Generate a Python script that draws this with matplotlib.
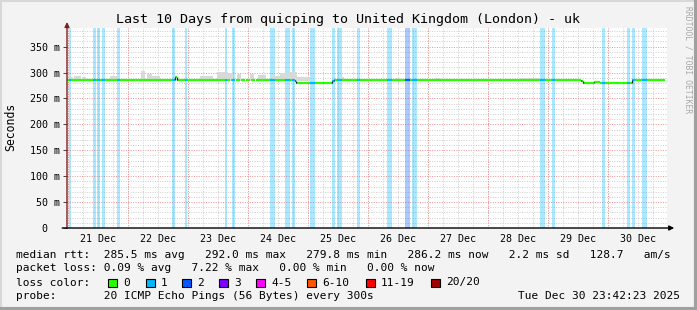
import numpy as np
import matplotlib
matplotlib.use("Agg")
import matplotlib.pyplot as plt
from matplotlib.collections import LineCollection
from matplotlib.patches import Rectangle
from matplotlib.lines import Line2D
import pandas as pd

W, H = 697, 310
MONO = "DejaVu Sans Mono"

# ---------------- data (hours after start of window) ----------------
start = pd.Timestamp("2025-12-20 23:42:23")
span_h = 240.0
title = "Last 10 Days from quicping to United Kingdom (London) - uk"

# packet-loss bands
band_start = [0.8, 10.2, 12.0, 14.0, 20.0, 42.0, 47.2, 63.2, 66.0, 81.2, 87.2, 90.0,
              97.2, 106.0, 108.0, 116.0, 128.0, 135.2, 138.0, 189.2, 194.0, 214.0,
              224.0, 226.0, 230.0]
band_end = [1.6, 11.4, 13.0, 15.2, 21.0, 43.2, 47.8, 64.0, 67.2, 83.2, 89.2, 91.0,
            99.2, 107.0, 110.0, 117.2, 130.0, 137.2, 140.0, 191.2, 195.2, 215.2,
            225.2, 227.2, 232.0]
band_loss = [1, 1, 1, 1, 1, 1, 1, 1, 1, 1, 1, 1,
             1, 1, 1, 1, 1, 2, 1, 1, 1, 1,
             1, 1, 1]

# median rtt (ms), step changes
med_t = [0.0, 42.0, 43.2, 44.0, 91.2, 91.6, 93.2, 98.0, 102.0, 105.2, 106.0, 106.8,
         159.2, 160.0, 205.6, 206.4, 207.6, 210.8, 213.2, 215.6, 220.0, 223.6, 225.2, 226.0]
med_v = [286.5, 286.0, 292.0, 286.5, 283.0, 280.5, 279.8, 280.2, 279.8, 280.5, 283.0, 286.5,
         285.0, 286.5, 283.5, 280.5, 279.8, 281.0, 280.0, 280.5, 279.8, 280.5, 279.8, 286.3]
med_end = 239.2

# smoke (upper spread of pings, ms)
smoke_start = [1.2, 2.8, 6.0, 17.2, 29.6, 32.0, 34.0, 53.2, 60.0, 64.4, 68.0, 73.2,
               76.4, 82.0, 85.2, 89.2, 92.0, 109.2, 131.2, 147.2, 181.2]
smoke_end = [2.4, 5.6, 7.6, 20.0, 31.2, 34.0, 37.2, 58.4, 64.4, 66.4, 69.6, 74.8,
             79.6, 85.2, 89.2, 92.0, 97.2, 110.8, 133.2, 149.2, 189.2]
smoke_top = [292, 294, 292, 294, 303, 297, 294, 294, 302, 300, 298, 298,
             295, 293, 300, 302, 292, 291, 290, 289, 289]

loss_labels = ["0", "1", "2", "3", "4-5", "6-10", "11-19", "20/20"]
loss_colors = ["#26ff00", "#00b8ff", "#0059ff", "#7e00ff", "#ff00ff", "#ff5500", "#ff0000", "#a10000"]

y_ticks = [0, 50, 100, 150, 200, 250, 300, 350]

rtt_line = "median rtt:  285.5 ms avg   292.0 ms max   279.8 ms min   286.2 ms now   2.2 ms sd   128.7   am/s"
loss_line = "packet loss: 0.09 % avg   7.22 % max   0.00 % min   0.00 % now"
probe_line = "probe:       20 ICMP Echo Pings (56 Bytes) every 300s"
stamp_text = "Tue Dec 30 23:42:23 2025"

# ---------------- figure ----------------
fig = plt.figure(figsize=(W / 100, H / 100), dpi=100, facecolor="#f3f3f3")

def fx(px):
    return px / W

def fy(py):
    return 1 - py / H

ax = fig.add_axes([fx(67), fy(228), 600 / W, 200 / H])
ax.set_facecolor("white")
ax.set_xlim(0, span_h)
ax.set_ylim(0, 386)
for s in ax.spines.values():
    s.set_visible(False)

# grid
first_mid = ((start.normalize() + pd.Timedelta(days=1)) - start).total_seconds() / 3600.0
six_h = np.arange(first_mid - 18, span_h, 6.0)
six_h = six_h[(six_h > 0) & (six_h < span_h)]
mids = np.arange(first_mid, span_h, 24.0)
minor_y = [v for v in range(10, 386, 10) if v % 50 != 0]
major_y = [v for v in range(50, 386, 50)]
ax.hlines(minor_y, 0, span_h, colors="#cdcdcd", linestyles=(0, (1, 1.5)), lw=0.7, zorder=0.5)
ax.vlines(six_h, 0, 386, colors="#cdcdcd", linestyles=(0, (1, 1.5)), lw=0.7, zorder=0.5)
ax.hlines(major_y, 0, span_h, colors="#f09090", linestyles=(0, (1, 1.5)), lw=0.7, zorder=0.6)
ax.vlines(mids, 0, 386, colors="#f09090", linestyles=(0, (1, 1.5)), lw=0.7, zorder=0.6)

# loss bands
for s, e, l in zip(band_start, band_end, band_loss):
    ax.axvspan(s, e, color=loss_colors[l], alpha=0.33, lw=0, zorder=1)

# smoke
for s, e, top in zip(smoke_start, smoke_end, smoke_top):
    ax.fill_between([s, e], [283, 283], [top, top], color="#d9d9d9", lw=0, zorder=2)

# median line coloured by loss
dt = 0.1
t = np.arange(0, med_end, dt)
idx = np.searchsorted(med_t, t + 1e-9, side="right") - 1
v = np.array(med_v)[idx]
loss = np.zeros_like(t, dtype=int)
for s, e, l in zip(band_start, band_end, band_loss):
    loss[(t >= s) & (t < e)] = l
segs, cols = [], []
for i in range(len(t)):
    segs.append([(t[i], v[i]), (t[i] + dt, v[i])])
    cols.append(loss_colors[loss[i]])
ax.add_collection(LineCollection(segs, colors=cols, linewidths=1.6, zorder=3, capstyle="butt"))
vsegs = []
for i in range(1, len(t)):
    if abs(v[i] - v[i - 1]) > 1.0:
        vsegs.append([(t[i], v[i - 1]), (t[i], v[i])])
ax.add_collection(LineCollection(vsegs, colors="#202020", linewidths=0.9, zorder=3.5))

# ticks
ax.set_yticks(y_ticks)
ax.set_yticklabels([f"{y} m" if y else "0  " for y in y_ticks], family=MONO, fontsize=7.2)
noons = np.arange(first_mid + 12, span_h, 24.0)
labels = [(start + pd.Timedelta(hours=float(h))).strftime("%d %b") for h in noons]
ax.set_xticks(noons)
ax.set_xticklabels(labels, family=MONO, fontsize=7.2)
ax.tick_params(axis="x", length=0, pad=4)
ax.tick_params(axis="y", length=3, width=0.7, color="#444444", pad=2)

# axes with arrows
ax.annotate("", xy=(0, 1.03), xytext=(0, 0), xycoords="axes fraction",
            arrowprops=dict(arrowstyle="-|>", color="#7a2020", lw=1.0, mutation_scale=7,
                            shrinkA=0, shrinkB=0), annotation_clip=False, zorder=5)
ax.annotate("", xy=(1.012, 0), xytext=(-0.008, 0), xycoords="axes fraction",
            arrowprops=dict(arrowstyle="-|>", color="#000000", lw=1.0, mutation_scale=7,
                            shrinkA=0, shrinkB=0), annotation_clip=False, zorder=5)

# titles
fig.text(fx(348), fy(19), title, family=MONO, fontsize=9.6, ha="center", va="center")
fig.text(fx(11), fy(127), "Seconds", family=MONO, fontsize=8.3, rotation=90, ha="center", va="center")
fig.text(fx(688), fy(6), "RRDTOOL / TOBI OETIKER", family=MONO, fontsize=5.8, color="#a8a8a8",
         rotation=270, ha="center", va="top")

# legend text
fs = 8.05
y1, y2, y3, y4 = 254.5, 268, 282.5, 296
fig.text(fx(16), fy(y1), rtt_line, family=MONO, fontsize=fs, va="center")
fig.text(fx(16), fy(y2), loss_line, family=MONO, fontsize=fs, va="center")
fig.text(fx(16), fy(y3), "loss color:", family=MONO, fontsize=fs, va="center")
box_x = [108, 146, 182, 219, 256, 307, 366, 431]
for bx, lab, c in zip(box_x, loss_labels, loss_colors):
    fig.add_artist(Rectangle((fx(bx), fy(y3 + 4.5)), 8.5 / W, 8.5 / H, transform=fig.transFigure,
                             facecolor=c, edgecolor="black", lw=0.8))
    fig.text(fx(bx + 15), fy(y3), lab, family=MONO, fontsize=fs, va="center")
fig.text(fx(16), fy(y4), probe_line, family=MONO, fontsize=fs, va="center")
fig.text(fx(680), fy(y4), stamp_text, family=MONO, fontsize=fs, va="center", ha="right")

# frame around the image
fig.add_artist(Line2D([0, 0, 1], [0, 1, 1], transform=fig.transFigure, color="#d8d8d8", lw=2.2))
fig.add_artist(Line2D([0, 1, 1], [0, 0, 1], transform=fig.transFigure, color="#a0a0a0", lw=4.4))

fig.savefig("out.png", dpi=100, facecolor=fig.get_facecolor())
